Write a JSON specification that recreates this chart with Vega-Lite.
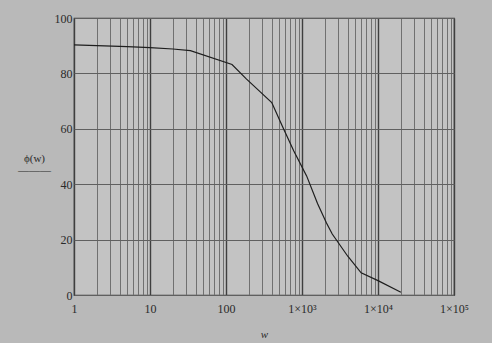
{
  "$schema": "https://vega.github.io/schema/vega-lite/v6.json",
  "width": 380,
  "height": 277,
  "autosize": {"type": "none"},
  "padding": {"left": 74, "top": 18, "right": 38, "bottom": 48},
  "background": "#b9b9b9",
  "config": {
    "view": {"fill": "#c3c3c3", "stroke": "#3a3a3a", "strokeWidth": 1.2},
    "font": "Liberation Serif",
    "axis": {"labelFont": "Liberation Serif", "titleFont": "Liberation Serif", "labelColor": "#2a2a2a", "titleColor": "#2a2a2a"}
  },
  "data": {
    "values": [
      {"w": 1, "phi": 90.3},
      {"w": 2, "phi": 90.0},
      {"w": 5, "phi": 89.7},
      {"w": 10, "phi": 89.3},
      {"w": 20, "phi": 88.8},
      {"w": 34, "phi": 88.2},
      {"w": 120, "phi": 83.2},
      {"w": 185, "phi": 78.0},
      {"w": 280, "phi": 73.4},
      {"w": 400, "phi": 69.5},
      {"w": 550, "phi": 61.0},
      {"w": 780, "phi": 52.0},
      {"w": 1150, "phi": 43.0},
      {"w": 1600, "phi": 33.0},
      {"w": 2100, "phi": 26.0},
      {"w": 2500, "phi": 22.0},
      {"w": 4000, "phi": 14.0},
      {"w": 6000, "phi": 8.0},
      {"w": 10000, "phi": 5.2},
      {"w": 20000, "phi": 1.0}
    ]
  },
  "mark": {"type": "line", "color": "#1e1e1e", "strokeWidth": 1.2},
  "encoding": {
    "x": {
      "field": "w",
      "type": "quantitative",
      "scale": {"type": "log", "domain": [1, 100000], "nice": false},
      "axis": {
        "title": "w",
        "titleFontSize": 11,
        "titleFontWeight": "normal",
        "titleFontStyle": "italic",
        "titlePadding": 14,
        "values": [1,2,3,4,5,6,7,8,9,10,20,30,40,50,60,70,80,90,100,200,300,400,500,600,700,800,900,1000,2000,3000,4000,5000,6000,7000,8000,9000,10000,20000,30000,40000,50000,60000,70000,80000,90000,100000],
        "labelExpr": "datum.value == 1 ? '1' : datum.value == 10 ? '10' : datum.value == 100 ? '100' : datum.value == 1000 ? '1×10³' : datum.value == 10000 ? '1×10⁴' : datum.value == 100000 ? '1×10⁵' : ''",
        "labelFontSize": 12,
        "labelPadding": 8,
        "labelFlush": false,
        "labelOverlap": false,
        "ticks": false,
        "domain": false,
        "grid": true,
        "gridColor": {"condition": {"test": "abs(log(datum.value)/log(10) - round(log(datum.value)/log(10))) < 0.001", "value": "#3f3f3f"}, "value": "#707070"},
        "gridWidth": {"condition": {"test": "abs(log(datum.value)/log(10) - round(log(datum.value)/log(10))) < 0.001", "value": 1.4}, "value": 1},
        "gridOpacity": 1
      }
    },
    "y": {
      "field": "phi",
      "type": "quantitative",
      "scale": {"domain": [0, 100], "nice": false},
      "axis": {
        "title": ["ϕ(w)", "―――"],
        "titleAngle": 0,
        "titleFontSize": 11,
        "titleFontWeight": "normal",
        "titleAlign": "center",
        "titleBaseline": "middle",
        "titleX": -40,
        "titleY": 140,
        "titleLineHeight": 12,
        "values": [0, 20, 40, 60, 80, 100],
        "labelFontSize": 12,
        "labelPadding": 2,
        "ticks": false,
        "domain": false,
        "grid": true,
        "gridColor": "#606060",
        "gridWidth": 1,
        "gridOpacity": 1
      }
    }
  }
}
